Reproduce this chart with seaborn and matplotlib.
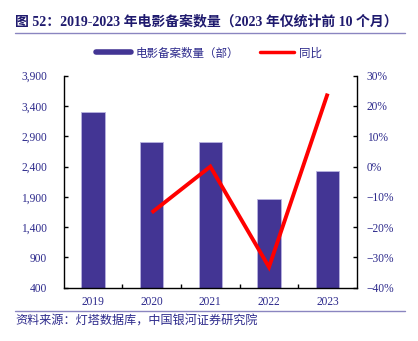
import matplotlib
matplotlib.use("Agg")
import matplotlib.pyplot as plt
from matplotlib.lines import Line2D
from matplotlib.ticker import FixedLocator, FuncFormatter
import numpy as np
import pandas as pd
import seaborn as sns

# Film registration counts and year-over-year change
years = ["2019", "2020", "2021", "2022", "2023"]
counts = [3300, 2800, 2800, 1870, 2320]
yoy_years = ["2020", "2021", "2022", "2023"]
yoy = [-0.152, 0.0, -0.332, 0.241]

title = "图 52：2019-2023 年电影备案数量（2023 年仅统计前 10 个月）"
bar_label = "电影备案数量（部）"
line_label = "同比"
source = "资料来源：灯塔数据库，中国银河证券研究院"

left_ticks = [400, 900, 1400, 1900, 2400, 2900, 3400, 3900]
right_ticks = [-0.4, -0.3, -0.2, -0.1, 0.0, 0.1, 0.2, 0.3]

bar_color = "#433594"
line_color = "#FF0000"
text_color = "#2D2A8C"
title_color = "#1F1A6E"
rule_color = "#8A85C0"

sns.set_theme(style="white")
plt.rcParams["font.family"] = ["Liberation Serif", "Noto Sans CJK SC", "DejaVu Sans"]
cjk = ["Noto Sans CJK SC", "DejaVu Sans"]

fig = plt.figure(figsize=(4.18, 3.41), dpi=100)
ax = fig.add_axes([0.1524, 0.1563, 0.7016, 0.6217])

df = pd.DataFrame({"year": years, "count": counts})
sns.barplot(data=df, x="year", y="count", color=bar_color, width=0.4,
            edgecolor="#B9B3E0", linewidth=0.6, saturation=1, ax=ax)
ax.set_xlim(-0.5, len(years) - 0.5)
ax.set_ylim(left_ticks[0], left_ticks[-1])
ax.yaxis.set_major_locator(FixedLocator(left_ticks))
ax.yaxis.set_major_formatter(FuncFormatter(lambda v, p: f"{int(v):,}"))
ax.set_xlabel("")
ax.set_ylabel("")

ax2 = ax.twinx()
pos = [years.index(y) for y in yoy_years]
sns.lineplot(x=pos, y=yoy, color=line_color, linewidth=2.8, ax=ax2,
             solid_joinstyle="miter", solid_capstyle="butt")
ax2.set_ylim(right_ticks[0], right_ticks[-1])
ax2.yaxis.set_major_locator(FixedLocator(right_ticks))
ax2.yaxis.set_major_formatter(FuncFormatter(
    lambda v, p: (f"{round(v * 100):d}%").replace("-", "\u2212")))
ax2.set_xlim(-0.5, len(years) - 0.5)

for a in (ax, ax2):
    a.spines["top"].set_visible(False)
    for s in ("left", "right", "bottom"):
        a.spines[s].set_color("black")
        a.spines[s].set_linewidth(1.0)
    a.tick_params(axis="y", direction="in", length=3, width=1, color="black",
                  labelsize=8.3, labelcolor=text_color)

ax.spines["right"].set_visible(False)
ax2.spines["left"].set_visible(False)
ax2.spines["bottom"].set_visible(False)

ax.set_xticks(range(len(years)))
ax.set_xticklabels(years)
ax.set_xticks(np.arange(0.5, len(years) - 0.5, 1.0), minor=True)
ax.tick_params(axis="x", which="major", length=0, labelsize=8.3,
               labelcolor=text_color, pad=6)
ax.tick_params(axis="x", which="minor", direction="in", length=3, width=1,
               color="black", bottom=True)
ax.tick_params(axis="y", pad=12)
ax2.tick_params(axis="y", pad=7)

# Header, legend and footer
fig.text(15 / 418, 1 - 22 / 341, title, fontsize=10, fontweight="bold",
         color=title_color, family=["Liberation Serif", "Noto Sans CJK SC"],
         va="center", ha="left")
fig.add_artist(Line2D([15 / 418, 405 / 418], [1 - 33 / 341, 1 - 33 / 341],
                      color=rule_color, linewidth=1.0))

handles = [Line2D([], [], color=bar_color, linewidth=4.0),
           Line2D([], [], color=line_color, linewidth=2.5)]
leg = fig.legend(handles, [bar_label, line_label], loc="center",
                 bbox_to_anchor=(0.5, 1 - 53 / 341), ncol=2, frameon=False,
                 handlelength=3.0, handletextpad=0.4, columnspacing=1.8,
                 prop={"family": cjk, "size": 8.3})
for t in leg.get_texts():
    t.set_color(text_color)

fig.add_artist(Line2D([15 / 418, 405 / 418], [1 - 311 / 341, 1 - 311 / 341],
                      color=rule_color, linewidth=1.0))
fig.text(15 / 418, 1 - 321 / 341, source, fontsize=8.7, color=text_color,
         family=cjk, va="center", ha="left")

fig.savefig("out.png", dpi=100)
